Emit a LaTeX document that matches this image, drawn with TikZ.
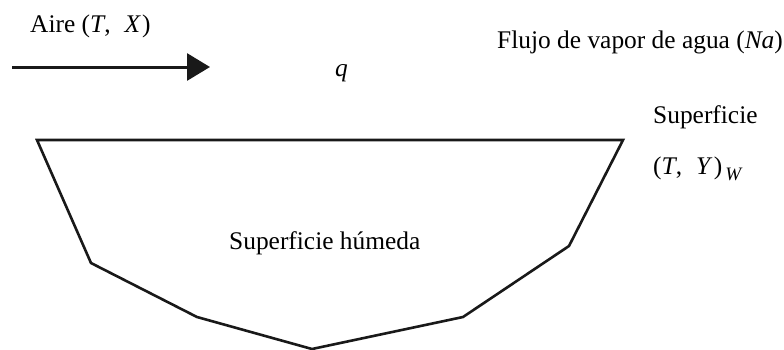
\documentclass[tikz,border=0pt]{standalone}
\usepackage{fontspec}
\setmainfont{Liberation Serif}
\usetikzlibrary{arrows.meta}
\begin{document}
\begin{tikzpicture}[x=1pt,y=-1pt,
  lbl/.style={anchor=base west,inner sep=0pt,font=\fontsize{25.4}{30}\selectfont},
  edge/.style={line width=2.6pt,line join=miter,draw=black!90},
  flow/.style={line width=3pt,draw=black!90,-{Triangle[length=23pt,width=27pt]}}]
\useasboundingbox (0,0) rectangle (784,349);
% labels
\node[lbl] (aire) at (30,32) {Aire (\textit{T},\hspace{0.3em} \textit{X}\hspace{0.05em})};
\node[lbl] (q) at (335,76) {\textit{q}};
\node[lbl] (flujo) at (497,48) {Flujo de vapor de agua (\textit{Na})};
\node[lbl] (sup) at (653,123) {Superficie};
\node[lbl] (ty) at (653,174) {(\textit{T},\hspace{0.3em} \textit{Y}\hspace{0.05em})\raisebox{-6pt}{\fontsize{19}{20}\selectfont\,\textit{W}}};
\node[lbl] (hum) at (229,249) {Superficie húmeda};
% arrow
\coordinate (a1) at (12,67);
\coordinate (a2) at (210,67);
\draw[flow] (a1) -- (a2);
% surface polygon
\coordinate (p1) at (37,140);
\coordinate (p2) at (623,140);
\coordinate (p3) at (569,246);
\coordinate (p4) at (463,317);
\coordinate (p5) at (312,349);
\coordinate (p6) at (197,317);
\coordinate (p7) at (91,263);
\draw[edge] (p1) -- (p2) -- (p3) -- (p4) -- (p5) -- (p6) -- (p7) -- cycle;
\end{tikzpicture}
\end{document}
